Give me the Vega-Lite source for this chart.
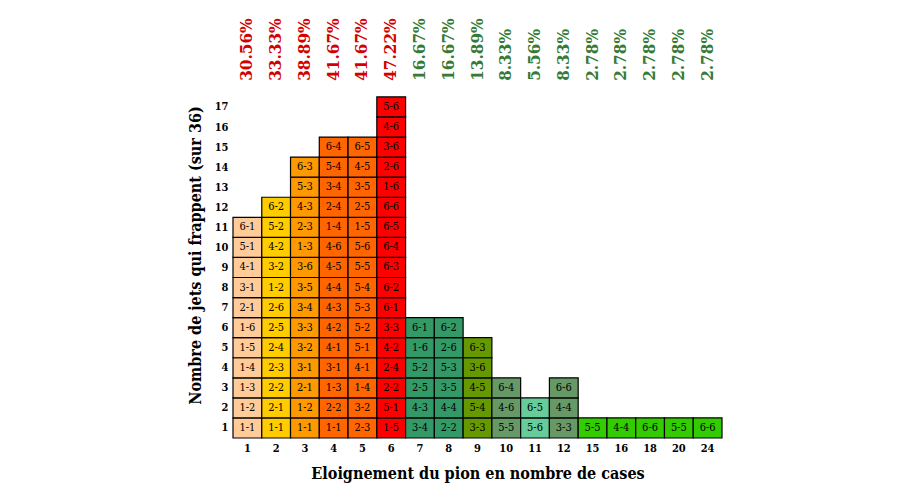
{
  "$schema": "https://vega.github.io/schema/vega-lite/v6.json",
  "width": 489,
  "height": 438,
  "autosize": "none",
  "padding": {"left": 233, "top": 0, "right": 178, "bottom": 62},
  "background": "white",
  "config": {"view": {"stroke": null}, "axis": {"labelOverlap": false, "labelBound": false}},
  "datasets": {
    "cells": [
      {"c":"1","n":1,"t":"1-1"},{"c":"1","n":2,"t":"1-2"},{"c":"1","n":3,"t":"1-3"},{"c":"1","n":4,"t":"1-4"},{"c":"1","n":5,"t":"1-5"},{"c":"1","n":6,"t":"1-6"},{"c":"1","n":7,"t":"2-1"},{"c":"1","n":8,"t":"3-1"},{"c":"1","n":9,"t":"4-1"},{"c":"1","n":10,"t":"5-1"},{"c":"1","n":11,"t":"6-1"},
      {"c":"2","n":1,"t":"1-1"},{"c":"2","n":2,"t":"2-1"},{"c":"2","n":3,"t":"2-2"},{"c":"2","n":4,"t":"2-3"},{"c":"2","n":5,"t":"2-4"},{"c":"2","n":6,"t":"2-5"},{"c":"2","n":7,"t":"2-6"},{"c":"2","n":8,"t":"1-2"},{"c":"2","n":9,"t":"3-2"},{"c":"2","n":10,"t":"4-2"},{"c":"2","n":11,"t":"5-2"},{"c":"2","n":12,"t":"6-2"},
      {"c":"3","n":1,"t":"1-1"},{"c":"3","n":2,"t":"1-2"},{"c":"3","n":3,"t":"2-1"},{"c":"3","n":4,"t":"3-1"},{"c":"3","n":5,"t":"3-2"},{"c":"3","n":6,"t":"3-3"},{"c":"3","n":7,"t":"3-4"},{"c":"3","n":8,"t":"3-5"},{"c":"3","n":9,"t":"3-6"},{"c":"3","n":10,"t":"1-3"},{"c":"3","n":11,"t":"2-3"},{"c":"3","n":12,"t":"4-3"},{"c":"3","n":13,"t":"5-3"},{"c":"3","n":14,"t":"6-3"},
      {"c":"4","n":1,"t":"1-1"},{"c":"4","n":2,"t":"2-2"},{"c":"4","n":3,"t":"1-3"},{"c":"4","n":4,"t":"3-1"},{"c":"4","n":5,"t":"4-1"},{"c":"4","n":6,"t":"4-2"},{"c":"4","n":7,"t":"4-3"},{"c":"4","n":8,"t":"4-4"},{"c":"4","n":9,"t":"4-5"},{"c":"4","n":10,"t":"4-6"},{"c":"4","n":11,"t":"1-4"},{"c":"4","n":12,"t":"2-4"},{"c":"4","n":13,"t":"3-4"},{"c":"4","n":14,"t":"5-4"},{"c":"4","n":15,"t":"6-4"},
      {"c":"5","n":1,"t":"2-3"},{"c":"5","n":2,"t":"3-2"},{"c":"5","n":3,"t":"1-4"},{"c":"5","n":4,"t":"4-1"},{"c":"5","n":5,"t":"5-1"},{"c":"5","n":6,"t":"5-2"},{"c":"5","n":7,"t":"5-3"},{"c":"5","n":8,"t":"5-4"},{"c":"5","n":9,"t":"5-5"},{"c":"5","n":10,"t":"5-6"},{"c":"5","n":11,"t":"1-5"},{"c":"5","n":12,"t":"2-5"},{"c":"5","n":13,"t":"3-5"},{"c":"5","n":14,"t":"4-5"},{"c":"5","n":15,"t":"6-5"},
      {"c":"6","n":1,"t":"1-5"},{"c":"6","n":2,"t":"5-1"},{"c":"6","n":3,"t":"2-2"},{"c":"6","n":4,"t":"2-4"},{"c":"6","n":5,"t":"4-2"},{"c":"6","n":6,"t":"3-3"},{"c":"6","n":7,"t":"6-1"},{"c":"6","n":8,"t":"6-2"},{"c":"6","n":9,"t":"6-3"},{"c":"6","n":10,"t":"6-4"},{"c":"6","n":11,"t":"6-5"},{"c":"6","n":12,"t":"6-6"},{"c":"6","n":13,"t":"1-6"},{"c":"6","n":14,"t":"2-6"},{"c":"6","n":15,"t":"3-6"},{"c":"6","n":16,"t":"4-6"},{"c":"6","n":17,"t":"5-6"},
      {"c":"7","n":1,"t":"3-4"},{"c":"7","n":2,"t":"4-3"},{"c":"7","n":3,"t":"2-5"},{"c":"7","n":4,"t":"5-2"},{"c":"7","n":5,"t":"1-6"},{"c":"7","n":6,"t":"6-1"},
      {"c":"8","n":1,"t":"2-2"},{"c":"8","n":2,"t":"4-4"},{"c":"8","n":3,"t":"3-5"},{"c":"8","n":4,"t":"5-3"},{"c":"8","n":5,"t":"2-6"},{"c":"8","n":6,"t":"6-2"},
      {"c":"9","n":1,"t":"3-3"},{"c":"9","n":2,"t":"5-4"},{"c":"9","n":3,"t":"4-5"},{"c":"9","n":4,"t":"3-6"},{"c":"9","n":5,"t":"6-3"},
      {"c":"10","n":1,"t":"5-5"},{"c":"10","n":2,"t":"4-6"},{"c":"10","n":3,"t":"6-4"},
      {"c":"11","n":1,"t":"5-6"},{"c":"11","n":2,"t":"6-5"},
      {"c":"12","n":1,"t":"3-3"},{"c":"12","n":2,"t":"4-4"},{"c":"12","n":3,"t":"6-6"},
      {"c":"15","n":1,"t":"5-5"},
      {"c":"16","n":1,"t":"4-4"},
      {"c":"18","n":1,"t":"6-6"},
      {"c":"20","n":1,"t":"5-5"},
      {"c":"24","n":1,"t":"6-6"}
    ],
    "pct": [
      {"c":"1","p":"30.56%","g":"a"},{"c":"2","p":"33.33%","g":"a"},{"c":"3","p":"38.89%","g":"a"},{"c":"4","p":"41.67%","g":"a"},{"c":"5","p":"41.67%","g":"a"},{"c":"6","p":"47.22%","g":"a"},
      {"c":"7","p":"16.67%","g":"b"},{"c":"8","p":"16.67%","g":"b"},{"c":"9","p":"13.89%","g":"b"},{"c":"10","p":"8.33%","g":"b"},{"c":"11","p":"5.56%","g":"b"},{"c":"12","p":"8.33%","g":"b"},
      {"c":"15","p":"2.78%","g":"b"},{"c":"16","p":"2.78%","g":"b"},{"c":"18","p":"2.78%","g":"b"},{"c":"20","p":"2.78%","g":"b"},{"c":"24","p":"2.78%","g":"b"}
    ]
  },
  "encoding": {
    "x": {
      "field": "c", "type": "ordinal",
      "scale": {"domain": ["1","2","3","4","5","6","7","8","9","10","11","12","15","16","18","20","24"], "paddingInner": 0, "paddingOuter": 0},
      "axis": {
        "title": "Eloignement du pion en nombre de cases",
        "labelAngle": 0, "ticks": false, "domain": false, "labelPadding": 4, "labelOverlap": false,
        "labelFont": "DejaVu Serif Condensed", "labelFontWeight": "bold", "labelFontSize": 11, "labelColor": "black",
        "titleFont": "DejaVu Serif Condensed", "titleFontWeight": "bold", "titleFontSize": 16, "titleColor": "black", "titlePadding": 12
      }
    }
  },
  "layer": [
    {
      "data": {"name": "cells"},
      "transform": [{"calculate": "datum.n - 0.5", "as": "lo"}, {"calculate": "datum.n + 0.5", "as": "hi"}],
      "mark": {"type": "rect", "stroke": "black", "strokeWidth": 1.2},
      "encoding": {
        "y": {
          "field": "lo", "type": "quantitative",
          "scale": {"domain": [0.5, 22.33], "nice": false, "zero": false},
          "axis": {
            "title": "Nombre de jets qui frappent (sur 36)",
            "values": [1,2,3,4,5,6,7,8,9,10,11,12,13,14,15,16,17],
            "tickCount": 17,
            "grid": false, "ticks": false, "domain": false, "labelPadding": 5, "labelOverlap": false,
            "labelFont": "DejaVu Serif Condensed", "labelFontWeight": "bold", "labelFontSize": 11, "labelColor": "black",
            "titleFont": "DejaVu Serif Condensed", "titleFontWeight": "bold", "titleFontSize": 16, "titleColor": "black",
            "titleX": -38, "titleY": 255, "titleAngle": -90, "titleAlign": "center", "titleBaseline": "middle"
          }
        },
        "y2": {"field": "hi"},
        "fill": {
          "field": "c", "type": "ordinal",
          "scale": {
            "domain": ["1","2","3","4","5","6","7","8","9","10","11","12","15","16","18","20","24"],
            "range": ["#ffcc99","#ffcc00","#ff9900","#ff6600","#ff6600","#ff0000","#339966","#339966","#669900","#669966","#66cc99","#669966","#33cc00","#33cc00","#33cc00","#33cc00","#33cc00"]
          },
          "legend": null
        }
      }
    },
    {
      "data": {"name": "cells"},
      "mark": {"type": "text", "font": "DejaVu Serif Condensed", "fontSize": 11, "color": "black"},
      "encoding": {
        "y": {"field": "n", "type": "quantitative"},
        "text": {"field": "t"}
      }
    },
    {
      "data": {"name": "pct"},
      "mark": {"type": "text", "font": "DejaVu Serif Condensed", "fontWeight": "bold", "fontSize": 17, "angle": -90, "align": "left", "baseline": "middle"},
      "encoding": {
        "y": {"datum": 18.3},
        "text": {"field": "p"},
        "color": {"field": "g", "type": "nominal", "scale": {"domain": ["a","b"], "range": ["#d40000","#357a35"]}, "legend": null}
      }
    }
  ]
}
